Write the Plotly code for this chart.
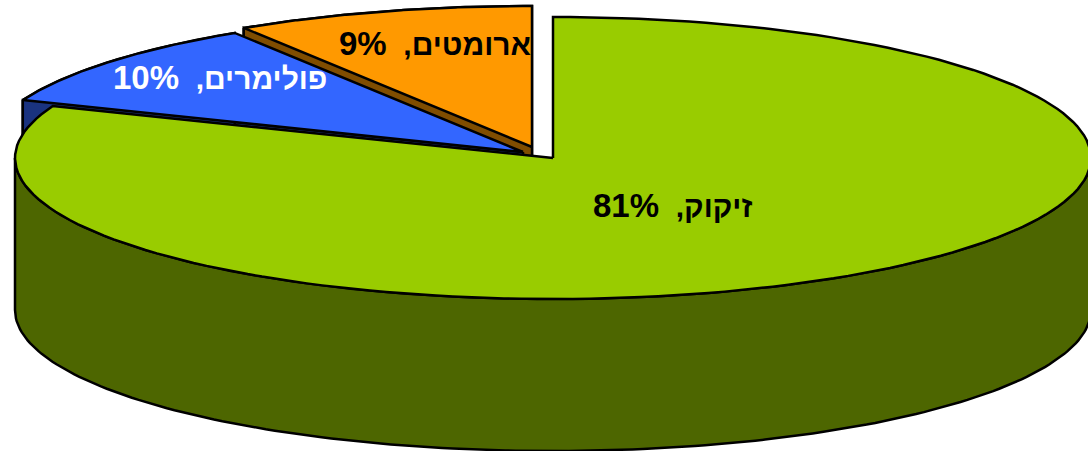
import numpy as np
import plotly.graph_objects as go

labels = ["זיקוק", "פולימרים", "ארומטים"]
values = [81, 10, 9]
top_colors = ["#99cc00", "#3366ff", "#ff9900"]
side_colors = ["#4d6600", "#1a3380", "#804d00"]
text_colors = ["black", "white", "black"]
centers = [(553, 158), (523, 152), (532, 147)]
label_pos = [(672, 205), (220, 77), (435, 43)]

RX, RY, DEPTH = 538, 141, 152
W, H = 1088, 451


def pt(c, deg, dz=0):
    r = np.radians(deg)
    return c[0] + RX * np.sin(r), c[1] - RY * np.cos(r) + dz


def arc(c, a, b, dz=0, n=160):
    t = np.linspace(a, b, n)
    return pt(c, t, dz)


def add_poly(fig, xs, ys, color):
    fig.add_trace(go.Scatter(
        x=list(xs) + [xs[0]], y=list(ys) + [ys[0]], mode="lines",
        fill="toself", fillcolor=color,
        line=dict(color="black", width=2.5), hoverinfo="skip", showlegend=False,
    ))


starts = np.cumsum([0] + values[:-1]) * 3.6
ends = np.cumsum(values) * 3.6

fig = go.Figure()
# draw back to front: orange, blue, green
for i in [2, 1, 0]:
    c, a, b = centers[i], float(starts[i]), float(ends[i])
    if i == 0:
        tx, ty = arc(c, 90, 270)
        bx, by = arc(c, 90, 270, DEPTH)
        add_poly(fig, np.r_[tx, bx[::-1]], np.r_[ty, by[::-1]], side_colors[i])
    else:
        ex, ey = pt(c, a)
        add_poly(fig, [c[0], ex, ex, c[0]], [c[1], ey, ey + DEPTH, c[1] + DEPTH], side_colors[i])
        tx, ty = arc(c, a, b, n=60)
        bx, by = arc(c, a, b, DEPTH, n=60)
        add_poly(fig, np.r_[tx, bx[::-1]], np.r_[ty, by[::-1]], side_colors[i])
    ax, ay = arc(c, a, b)
    add_poly(fig, np.r_[c[0], ax], np.r_[c[1], ay], top_colors[i])

for i in range(3):
    fig.add_annotation(
        x=label_pos[i][0], y=label_pos[i][1], xref="x", yref="y",
        text=f"<b><span style='font-size:30px'>{labels[i]},  </span>{values[i]}%</b>",
        showarrow=False,
        font=dict(family="Liberation Sans, Arial, sans-serif", size=33, color=text_colors[i]),
    )

fig.update_layout(
    width=W, height=H, margin=dict(l=0, r=0, t=0, b=0),
    paper_bgcolor="white", plot_bgcolor="white", showlegend=False,
    xaxis=dict(range=[0, W], visible=False, fixedrange=True),
    yaxis=dict(range=[H, 0], visible=False, fixedrange=True),
)
fig.write_html("out.html", config={"displayModeBar": False},
               post_script="document.body.style.margin='0';document.documentElement.style.overflow='hidden';")
